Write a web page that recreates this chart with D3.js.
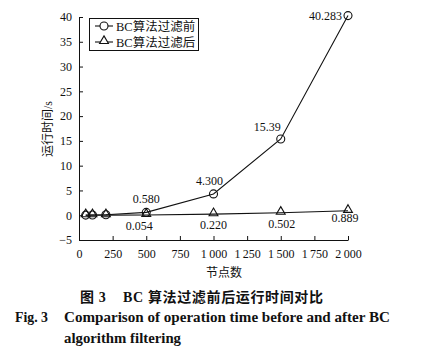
<!DOCTYPE html>
<html><head><meta charset="utf-8">
<script src="https://cdn.jsdelivr.net/npm/d3@7"></script>
<style>
body{margin:0;background:#fff;}
svg text{fill:#111;}
</style></head>
<body><svg id="c" width="425" height="359"></svg>
<script>
const nodes = [50, 100, 200, 500, 1000, 1500, 2000];
const beforeVals = [0.02, 0.05, 0.1, 0.58, 4.3, 15.39, 40.283];
const afterVals = [0.005, 0.01, 0.02, 0.054, 0.22, 0.502, 0.889];
const beforeLabels = [null, null, null, "0.580", "4.300", "15.39", "40.283"];
const afterLabels = [null, null, null, "0.054", "0.220", "0.502", "0.889"];
const xTicks = [0, 250, 500, 750, 1000, 1250, 1500, 1750, 2000];
const yTicks = [-5, 0, 5, 10, 15, 20, 25, 30, 35, 40];
const seriesNames = ["BC算法过滤前", "BC算法过滤后"];

const serif = "'Liberation Serif','Times New Roman','Noto Sans CJK SC',serif";
const svg = d3.select("#c");
const x = d3.scaleLinear().domain([0, 2000]).range([79, 348]);
const y = d3.scaleLinear().domain([-5, 40]).range([240, 17]);

// axes
const xa = svg.append("g").attr("transform", `translate(0,${y(-5)})`)
  .call(d3.axisBottom(x).tickValues(xTicks).tickSizeInner(-4).tickSizeOuter(0).tickPadding(9)
    .tickFormat(d => d >= 1000 ? String(Math.floor(d/1000)) + "\u2009" + String(d%1000).padStart(3,"0") : String(d)));
const ya = svg.append("g").attr("transform", `translate(${x(0)},0)`)
  .call(d3.axisLeft(y).tickValues(yTicks).tickSizeInner(-4).tickSizeOuter(0).tickPadding(7)
    .tickFormat(d => d < 0 ? "\u2212" + Math.abs(d) : String(d)));
[xa, ya].forEach(a => {
  a.selectAll("path,line").attr("stroke", "#111").attr("stroke-width", 1);
  a.selectAll("text").attr("font-family", serif).attr("font-size", 12).attr("fill", "#111");
});

// lines
const line = vals => d3.line().x((d, i) => x(nodes[i])).y(d => y(d))(vals);
svg.append("path").attr("d", line(beforeVals)).attr("fill", "none").attr("stroke", "#111").attr("stroke-width", 1.1);
svg.append("path").attr("d", line(afterVals)).attr("fill", "none").attr("stroke", "#111").attr("stroke-width", 1.1);

const tri = d3.symbol().type(d3.symbolTriangle).size(34);
svg.append("g").selectAll("path").data(afterVals).join("path")
  .attr("d", tri).attr("transform", (d, i) => `translate(${x(nodes[i])},${y(d) - 1})`)
  .attr("fill", "none").attr("stroke", "#111").attr("stroke-width", 1.1);
svg.append("g").selectAll("circle").data(beforeVals).join("circle")
  .attr("cx", (d, i) => x(nodes[i])).attr("cy", d => y(d)).attr("r", 4)
  .attr("fill", "none").attr("stroke", "#111").attr("stroke-width", 1.1);

// data labels
const bOff = [null, null, null, [0, -9, "middle"], [-4, -9, "middle"], [0, -8, "end"], [-6, 4, "end"]];
svg.append("g").selectAll("text").data(beforeVals).join("text")
  .filter((d, i) => beforeLabels[i])
  .attr("x", (d) => { const i = beforeVals.indexOf(d); return x(nodes[i]) + bOff[i][0]; })
  .attr("y", (d) => { const i = beforeVals.indexOf(d); return y(d) + bOff[i][1]; })
  .attr("text-anchor", d => bOff[beforeVals.indexOf(d)][2])
  .attr("font-family", serif).attr("font-size", 12)
  .text(d => beforeLabels[beforeVals.indexOf(d)]);
const aOff = [null, null, null, [-7, 15], [0, 15], [1, 15], [-3, 11]];
svg.append("g").selectAll("text").data(afterVals).join("text")
  .filter((d, i) => afterLabels[i])
  .attr("x", d => { const i = afterVals.indexOf(d); return x(nodes[i]) + aOff[i][0]; })
  .attr("y", d => { const i = afterVals.indexOf(d); return y(d) + aOff[i][1]; })
  .attr("text-anchor", "middle")
  .attr("font-family", serif).attr("font-size", 12)
  .text(d => afterLabels[afterVals.indexOf(d)]);

// legend
const lg = svg.append("g");
lg.append("rect").attr("x", 89.5).attr("y", 18.5).attr("width", 109).attr("height", 32)
  .attr("fill", "#fff").attr("stroke", "#111").attr("stroke-width", 1);
seriesNames.forEach((n, i) => {
  const cy = 26 + i * 16;
  lg.append("line").attr("x1", 95).attr("x2", 113).attr("y1", cy).attr("y2", cy).attr("stroke", "#111").attr("stroke-width", 1.1);
  if (i === 0) lg.append("circle").attr("cx", 104).attr("cy", cy).attr("r", 4).attr("fill", "#fff").attr("stroke", "#111").attr("stroke-width", 1.1);
  else lg.append("path").attr("d", tri).attr("transform", `translate(104,${cy - 1})`).attr("fill", "#fff").attr("stroke", "#111").attr("stroke-width", 1.1);
  lg.append("text").attr("x", 116).attr("y", cy + 4.5).attr("font-family", serif).attr("font-size", 12.5).text(n);
});

// axis titles
svg.append("text").attr("transform", "translate(52,129) rotate(-90)").attr("text-anchor", "middle")
  .attr("font-family", serif).attr("font-size", 12).text("运行时间/s");
svg.append("text").attr("x", 224).attr("y", 277).attr("text-anchor", "middle")
  .attr("font-family", serif).attr("font-size", 12).text("节点数");

// captions
const cap = svg.append("g").attr("font-family", serif).attr("font-weight", "bold").attr("font-size", 14);
cap.append("text").attr("x", 80).attr("y", 302).attr("xml:space", "preserve")
  .attr("textLength", 243).attr("lengthAdjust", "spacing").text("图 3    BC 算法过滤前后运行时间对比");
cap.append("text").attr("x", 15).attr("y", 322).attr("textLength", 33).attr("lengthAdjust", "spacingAndGlyphs").text("Fig. 3");
cap.append("text").attr("x", 64).attr("y", 322).attr("textLength", 326).attr("lengthAdjust", "spacingAndGlyphs").text("Comparison of operation time before and after BC");
cap.append("text").attr("x", 64).attr("y", 343).attr("textLength", 117).attr("lengthAdjust", "spacingAndGlyphs").text("algorithm filtering");
</script></body></html>
